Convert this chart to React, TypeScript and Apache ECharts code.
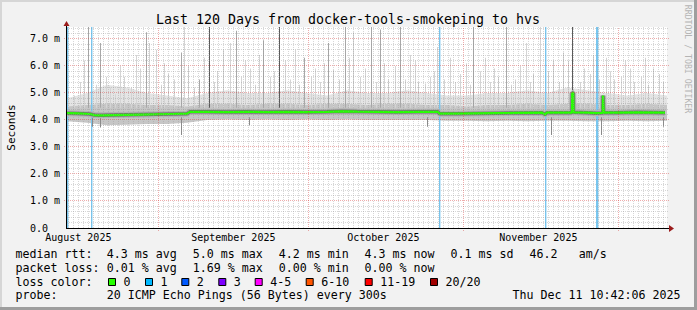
import React, { useEffect, useRef } from 'react';
import * as echarts from 'echarts';

// ---------- data ----------
const TITLE = 'Last 120 Days from docker-tools-smokeping to hvs';
const Y_LABEL = 'Seconds';
const WATERMARK = 'RRDTOOL / TOBI OETIKER';
const SPAN_DAYS = 120; // x = days since start of graph
const Y_MAX = 7.44; // ms
const Y_TICKS = [0, 1, 2, 3, 4, 5, 6, 7];

const MONTH_LABELS = ['August 2025', 'September 2025', 'October 2025', 'November 2025'];
const MONTH_LABEL_DAYS = [2.26, 33.26, 63.26, 94.26];
const MONTH_START_DAYS = [18.26, 48.26, 79.26, 110.26];

const SMOKE_DAYS = [0, 4, 8, 12, 16, 20, 24, 28, 32, 36, 40, 44, 48, 52, 56, 60, 64, 68, 72, 76, 80, 84, 88, 92, 96, 100, 104, 108, 112, 116, 120];
const SMOKE_LOW = [3.95, 3.9, 3.8, 3.82, 3.85, 3.85, 3.9, 4.0, 4.02, 4.0, 4.02, 4.0, 4.02, 4.0, 4.02, 4.0, 4.0, 4.0, 4.0, 3.97, 3.97, 3.95, 3.97, 3.95, 3.97, 3.97, 3.95, 3.95, 3.97, 3.95, 3.97];
const SMOKE_MID = [4.5, 4.55, 4.6, 4.6, 4.55, 4.55, 4.5, 4.6, 4.6, 4.55, 4.6, 4.6, 4.55, 4.6, 4.6, 4.55, 4.6, 4.6, 4.55, 4.55, 4.5, 4.55, 4.55, 4.6, 4.55, 4.6, 4.6, 4.55, 4.55, 4.6, 4.55];
const SMOKE_HIGH = [4.8, 5.0, 5.3, 5.2, 5.0, 4.9, 4.8, 5.0, 5.1, 5.0, 5.0, 5.1, 5.0, 4.9, 5.1, 5.0, 5.0, 5.1, 5.0, 4.9, 4.9, 5.0, 5.0, 5.1, 5.0, 5.2, 5.1, 5.0, 4.9, 5.0, 4.9];

// median rtt [day, ms]
const MEDIAN: [number, number][] = [
  [0, 4.25], [2, 4.24], [4.5, 4.22], [5.5, 4.18], [7, 4.17], [9, 4.18], [12, 4.19], [15, 4.2], [18, 4.21],
  [21, 4.22], [24, 4.23], [24.6, 4.3], [28, 4.3], [32, 4.29], [36, 4.3], [40, 4.29], [44, 4.3], [48, 4.29],
  [52, 4.3], [55, 4.32], [58, 4.31], [62, 4.3], [66, 4.29], [70, 4.3], [74.2, 4.3], [74.5, 4.23], [78, 4.23],
  [82, 4.24], [86, 4.25], [90, 4.26], [95, 4.27], [95.6, 4.2], [96, 4.27], [101.0, 4.27], [101.05, 5.0],
  [101.25, 5.0], [101.3, 4.28], [104, 4.27], [105.8, 4.25], [107.15, 4.26], [107.2, 4.9], [107.3, 4.9],
  [107.35, 4.27], [110, 4.27], [114, 4.28], [119.6, 4.27],
];

// smoke spikes [day, top ms, density level 1..3]
const SPIKE_BASE = 4.45;
const SPIKES: [number, number, number][] = [
  [0.3, 4.85, 1], [1.4, 4.9, 1], [2.6, 5.4, 1], [3.4, 6.2, 1], [4.3, 7.44, 2], [5.8, 5.3, 1], [6.6, 6.85, 2],
  [7.8, 5.6, 1], [8.6, 5.2, 1], [9.6, 4.95, 1], [10.6, 6.0, 1], [11.4, 5.6, 1], [12.9, 5.2, 1], [13.8, 6.4, 1],
  [14.6, 5.9, 1], [15.9, 7.25, 2], [16.4, 6.85, 1], [17.9, 6.6, 1], [18.8, 5.3, 1], [19.4, 6.1, 1],
  [20.2, 5.7, 1], [21.4, 5.5, 1], [22.9, 6.5, 2], [23.5, 7.44, 1], [24.2, 6.0, 1], [25.4, 5.2, 1],
  [26.4, 5.5, 2], [27.4, 6.3, 1], [28.5, 7.44, 3], [29.4, 5.4, 1], [30.0, 5.8, 1], [31.2, 6.6, 1],
  [32.6, 6.85, 1], [33.9, 7.3, 2], [34.8, 5.6, 1], [35.6, 6.2, 1], [36.6, 5.9, 1], [37.6, 5.3, 1],
  [38.4, 6.4, 1], [39.3, 6.95, 2], [40.6, 5.6, 1], [41.4, 5.8, 1], [42.5, 7.44, 3], [43.6, 6.2, 1],
  [44.6, 5.5, 1], [45.6, 6.6, 1], [46.4, 5.3, 1], [47.4, 6.3, 2], [48.8, 5.6, 1], [49.6, 5.9, 1],
  [50.6, 5.4, 1], [51.4, 6.1, 1], [52.3, 6.85, 2], [53.3, 5.85, 1], [54.4, 5.5, 1], [55.6, 7.44, 2],
  [56.4, 6.3, 1], [57.3, 7.25, 1], [58.6, 5.6, 1], [59.6, 5.9, 1], [60.9, 7.44, 2], [61.8, 5.4, 1],
  [62.6, 7.35, 2], [63.4, 6.1, 1], [64.2, 5.5, 1], [65.6, 6.0, 1], [66.6, 7.44, 2], [67.6, 5.5, 1],
  [68.6, 6.4, 1], [69.6, 6.2, 1], [70.2, 5.4, 1], [71.6, 5.35, 1], [72.6, 5.6, 1], [73.4, 5.8, 1],
  [74.0, 6.7, 1], [75.4, 5.5, 1], [76.6, 6.3, 1], [77.6, 5.4, 1], [78.6, 5.7, 1], [79.8, 6.1, 1],
  [80.6, 5.3, 1], [81.3, 7.44, 2], [82.6, 5.8, 1], [83.6, 6.3, 1], [84.6, 5.4, 1], [85.4, 5.9, 1],
  [86.2, 5.6, 1], [87.9, 7.44, 2], [88.8, 5.3, 1], [89.6, 5.5, 1], [90.6, 6.0, 1], [91.9, 6.85, 1],
  [92.6, 5.4, 1], [93.3, 5.7, 1], [94.6, 7.44, 1], [96.2, 5.8, 1], [97.3, 6.2, 1], [98.4, 5.4, 1],
  [99.3, 6.5, 1], [100.2, 6.2, 1], [101.1, 7.44, 3], [102.6, 5.4, 1], [103.4, 5.9, 1], [104.6, 5.7, 1],
  [105.2, 6.4, 1], [106.4, 5.5, 1], [107.9, 6.3, 1], [108.6, 5.8, 1], [109.4, 5.5, 1], [110.9, 5.6, 1],
  [111.6, 6.2, 1], [112.6, 5.9, 1], [113.4, 5.4, 1], [114.9, 5.6, 1], [115.6, 6.3, 1], [116.2, 5.3, 1],
  [117.3, 5.9, 1], [118.4, 5.7, 1], [119.3, 5.4, 1],
];
// downward smoke dips [day, bottom ms]
const DIP_BASE = 4.1;
const DIPS: [number, number][] = [
  [5.0, 3.75], [6.6, 3.72], [22.9, 3.44], [36.4, 3.8], [72.0, 3.75], [96.8, 3.44], [106.9, 3.44], [119.2, 3.75],
];
// packet loss events [day]
const LOSS_EVENTS = [0.1, 4.95, 74.5, 95.7, 105.8, 106.0];

const MEDIAN_STATS = ['4.3', '5.0', '4.2', '4.3', '0.1']; // avg max min now sd
const LOSS_STATS = ['0.01', '1.69', '0.00', '0.00']; // avg max min now
const AM_S = '46.2';
const LOSS_LEGEND = ['0', '1', '2', '3', '4-5', '6-10', '11-19', '20/20'];
const LOSS_COLORS = ['#26ff00', '#00b8ff', '#0059ff', '#7e00ff', '#ff00ff', '#ff5500', '#ff0000', '#a10000'];
const PROBE = '20 ICMP Echo Pings (56 Bytes) every 300s';
const TIMESTAMP = 'Thu Dec 11 10:42:06 2025';

// ---------- layout / style ----------
const MONO = '"DejaVu Sans Mono", monospace';
const LEG = 11.63;
const GRID = { left: 67, top: 27, width: 600, height: 201 };
const SHADES: Record<number, string> = { 1: '#d4d4d4', 2: '#a8a8a8', 3: '#5a5a5a' };
const MINOR = 'rgba(150,150,150,0.38)';
const MAJOR = 'rgba(215,60,60,0.42)';
const ARROW = '#9b1c1c';

const CHUNK_X = [106.8, 192.8, 278.8, 364.5, 450.5];
const LEGEND_LABEL_X = [123.5, 160.5, 196.8, 233.8, 270.2, 321.2, 380.2, 445.5];

function buildOption() {
  const smoke = (arr: number[]) => SMOKE_DAYS.map((d, i) => [d, arr[i]]);

  const minorDays: number[][] = [];
  const frac = MONTH_START_DAYS[0] % 1;
  for (let d = frac; d < SPAN_DAYS; d += 1) {
    if (!MONTH_START_DAYS.some((m) => Math.abs(m - d) < 0.01)) minorDays.push([d, 0]);
  }
  const minorY: number[][] = [];
  for (let k = 1; k * 0.2 < Y_MAX; k++) {
    if (k % 5 !== 0) minorY.push([0, Math.round(k * 2) / 10]);
  }

  const vline = (color: string, ext: number) => (_p: any, api: any) => {
    const a = api.coord([api.value(0), 0]);
    const b = api.coord([api.value(0), Y_MAX]);
    const x = Math.floor(a[0]) + 0.5;
    return { type: 'line', shape: { x1: x, y1: a[1] + ext, x2: x, y2: b[1] }, style: { stroke: color, lineWidth: 1, lineDash: [1, 1] } };
  };
  const hline = (color: string, extL: number) => (_p: any, api: any) => {
    const a = api.coord([0, api.value(1)]);
    const b = api.coord([SPAN_DAYS, api.value(1)]);
    const y = Math.floor(a[1]) + 0.5;
    return { type: 'line', shape: { x1: a[0] - extL, y1: y, x2: b[0] + 2, y2: y }, style: { stroke: color, lineWidth: 1, lineDash: [1, 1] } };
  };

  const area = (data: number[][], color: string, z: number) => ({
    type: 'line', data, symbol: 'none', z, silent: true,
    lineStyle: { width: 0 }, areaStyle: { color, opacity: 1, origin: 'start' },
  });

  const graphic: any[] = [];
  const txt = (x: number, y: number, text: string, size: number, extra: any = {}, rotation = 0) =>
    graphic.push({ type: 'text', x, y, rotation, silent: true, z: 100,
      style: { text, fontFamily: MONO, fontSize: size, fill: '#000', align: 'left', verticalAlign: 'middle', ...extra } });

  // borders
  graphic.push({ type: 'rect', shape: { x: 0, y: 0, width: 697, height: 2 }, style: { fill: '#d6d6d6' }, silent: true });
  graphic.push({ type: 'rect', shape: { x: 0, y: 0, width: 2, height: 310 }, style: { fill: '#d6d6d6' }, silent: true });
  graphic.push({ type: 'rect', shape: { x: 0, y: 307, width: 697, height: 3 }, style: { fill: '#9e9e9e' }, silent: true });
  graphic.push({ type: 'rect', shape: { x: 694, y: 0, width: 3, height: 310 }, style: { fill: '#9e9e9e' }, silent: true });

  // axes lines & arrows
  graphic.push({ type: 'line', z: 90, silent: true, shape: { x1: 66, y1: 228.5, x2: 670, y2: 228.5 }, style: { stroke: '#000', lineWidth: 1 } });
  graphic.push({ type: 'line', z: 90, silent: true, shape: { x1: 66.5, y1: 229, x2: 66.5, y2: 25 }, style: { stroke: '#000', lineWidth: 1 } });
  graphic.push({ type: 'polygon', z: 91, silent: true, shape: { points: [[669, 225], [674, 228.5], [669, 232]] }, style: { fill: ARROW } });
  graphic.push({ type: 'polygon', z: 91, silent: true, shape: { points: [[63.5, 26], [66.5, 21], [69.5, 26]] }, style: { fill: ARROW } });

  // title, unit, watermark
  txt(348, 19, TITLE, 13.29, { align: 'center' });
  txt(11.5, 127.5, Y_LABEL, 11, { align: 'center' }, Math.PI / 2);
  txt(687.5, 59, WATERMARK, 8.2, { align: 'center', fill: '#b4b4b4' }, -Math.PI / 2);

  // legend
  const rows = [254.3, 268, 281.7, 295.3];
  txt(15.5, rows[0], 'median rtt:', LEG);
  ['avg', 'max', 'min', 'now', 'sd'].forEach((k, i) => txt(CHUNK_X[i], rows[0], `${MEDIAN_STATS[i]} ms ${k}`, LEG));
  txt(529.5, rows[0], AM_S, LEG);
  txt(578.8, rows[0], 'am/s', LEG);
  txt(15.5, rows[1], 'packet loss:', LEG);
  ['avg', 'max', 'min', 'now'].forEach((k, i) => txt(CHUNK_X[i], rows[1], `${LOSS_STATS[i]} % ${k}`, LEG));
  txt(15.5, rows[2], 'loss color:', LEG);
  LOSS_LEGEND.forEach((lab, i) => {
    const lx = LEGEND_LABEL_X[i];
    graphic.push({ type: 'rect', z: 100, silent: true, shape: { x: lx - 15, y: 278.5, width: 7, height: 7 },
      style: { fill: LOSS_COLORS[i], stroke: '#000', lineWidth: 1 } });
    txt(lx, rows[2], lab, LEG);
  });
  txt(15.5, rows[3], 'probe:', LEG);
  txt(CHUNK_X[0], rows[3], PROBE, LEG);
  txt(680.5, rows[3], TIMESTAMP, LEG, { align: 'right' });

  return {
    animation: false,
    backgroundColor: '#f2f2f2',
    grid: { ...GRID, show: true, backgroundColor: '#ffffff', borderWidth: 0 },
    xAxis: { type: 'value', min: 0, max: SPAN_DAYS, show: false },
    yAxis: {
      type: 'value', min: 0, max: Y_MAX, interval: 1,
      axisLine: { show: false }, axisTick: { show: false }, splitLine: { show: false },
      axisLabel: {
        showMaxLabel: false, margin: 7, fontFamily: MONO, fontSize: 10, color: '#000',
        formatter: (v: number) => (Y_TICKS.includes(v) ? (v === 0 ? '0.0\u00a0\u00a0' : `${v.toFixed(1)} m`) : ''),
      },
    },
    graphic,
    series: [
      area(smoke(SMOKE_HIGH), '#e4e4e4', 1),
      area(smoke(SMOKE_MID), '#c6c6c6', 2),
      area(smoke(SMOKE_LOW), '#ffffff', 3),
      {
        type: 'custom', z: 4, silent: true, data: LOSS_EVENTS.map((d) => [d, 0]), encode: { x: 0, y: 1 },
        renderItem: (_p: any, api: any) => {
          const a = api.coord([api.value(0), 0]);
          const b = api.coord([api.value(0), Y_MAX]);
          return { type: 'rect', shape: { x: Math.floor(a[0]), y: b[1], width: 1.4, height: a[1] - b[1] }, style: { fill: '#78c6ef' } };
        },
      },
      {
        type: 'custom', z: 5, silent: true, data: SPIKES, encode: { x: 0, y: 1 },
        renderItem: (_p: any, api: any) => {
          const a = api.coord([api.value(0), SPIKE_BASE]);
          const b = api.coord([api.value(0), api.value(1)]);
          return { type: 'rect', shape: { x: Math.floor(a[0]), y: b[1], width: 1, height: a[1] - b[1] }, style: { fill: SHADES[api.value(2)] } };
        },
      },
      {
        type: 'custom', z: 5, silent: true, data: DIPS, encode: { x: 0, y: 1 },
        renderItem: (_p: any, api: any) => {
          const a = api.coord([api.value(0), DIP_BASE]);
          const b = api.coord([api.value(0), api.value(1)]);
          return { type: 'rect', shape: { x: Math.floor(a[0]), y: a[1], width: 1, height: b[1] - a[1] }, style: { fill: '#8a8a8a' } };
        },
      },
      { type: 'line', z: 6, silent: true, data: MEDIAN, symbol: 'none', lineStyle: { width: 6, color: '#b4b4b4' } },
      { type: 'line', z: 6, silent: true, data: MEDIAN, symbol: 'none', lineStyle: { width: 3.5, color: '#727272' } },
      { type: 'line', z: 7, silent: true, data: MEDIAN, symbol: 'none', lineStyle: { width: 2.2, color: '#26ff00' } },
      { type: 'custom', z: 8, silent: true, clip: false, data: minorDays, encode: { x: 0, y: 1 }, renderItem: vline(MINOR, 0) },
      { type: 'custom', z: 8, silent: true, clip: false, data: minorY, encode: { x: 0, y: 1 }, renderItem: hline(MINOR, 0) },
      { type: 'custom', z: 8, silent: true, clip: false, data: MONTH_START_DAYS.map((d) => [d, 0]), encode: { x: 0, y: 1 }, renderItem: vline(MAJOR, 3) },
      { type: 'custom', z: 8, silent: true, clip: false, data: Y_TICKS.filter((v) => v > 0).map((v) => [0, v]), encode: { x: 0, y: 1 }, renderItem: hline(MAJOR, 3) },
      {
        type: 'custom', z: 9, silent: true, clip: false,
        data: MONTH_LABEL_DAYS.map((d, i) => ({ value: [d, 0], name: MONTH_LABELS[i] })), encode: { x: 0, y: 1 },
        renderItem: (p: any, api: any) => {
          const a = api.coord([api.value(0), 0]);
          return { type: 'text', x: a[0], y: a[1] + 9.7,
            style: { text: MONTH_LABELS[p.dataIndex], fontFamily: MONO, fontSize: 10, fill: '#000', align: 'center', verticalAlign: 'middle' } };
        },
      },
    ],
  };
}

export default function App() {
  const ref = useRef<HTMLDivElement>(null);
  useEffect(() => {
    const chart = echarts.init(ref.current!, null, { renderer: 'svg' });
    chart.setOption(buildOption() as any);
    return () => chart.dispose();
  }, []);
  return <div ref={ref} style={{ position: 'fixed', left: 0, top: 0, width: 697, height: 310 }} />;
}
